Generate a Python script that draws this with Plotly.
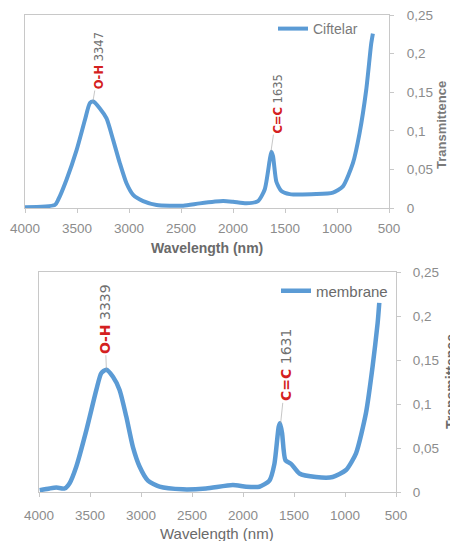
import plotly.graph_objects as go

# ---- data: Ciftelar spectrum ----
wl_top = [4000, 3712, 3680, 3600, 3504, 3424, 3376, 3344, 3280, 3216, 3152, 3088, 3024, 2960,
          2864, 2735, 2479, 2319, 2095, 1999, 1871, 1759, 1695, 1647, 1631, 1615, 1583, 1535,
          1455, 1199, 1039, 943, 847, 783, 719, 671, 655]
tr_top = [0.001, 0.004, 0.011, 0.037, 0.075, 0.114, 0.136, 0.138, 0.129, 0.116, 0.088, 0.058, 0.032, 0.017,
          0.009, 0.004, 0.003, 0.006, 0.009, 0.008, 0.006, 0.009, 0.024, 0.062, 0.073, 0.067, 0.034, 0.022,
          0.018, 0.018, 0.020, 0.028, 0.058, 0.097, 0.153, 0.213, 0.226]

# ---- data: membrane spectrum ----
wl_bot = [3993, 3896, 3830, 3749, 3700, 3634, 3536, 3438, 3390, 3340, 3275, 3210, 3145, 3079,
          3014, 2932, 2818, 2590, 2362, 2100, 1969, 1839, 1741, 1692, 1650, 1637, 1617, 1584,
          1529, 1447, 1284, 1121, 990, 892, 794, 729, 680, 664]
tr_bot = [0.002, 0.004, 0.005, 0.004, 0.010, 0.029, 0.070, 0.116, 0.135, 0.139, 0.131, 0.116, 0.086, 0.051,
          0.029, 0.013, 0.006, 0.003, 0.004, 0.008, 0.006, 0.006, 0.013, 0.032, 0.074, 0.078, 0.067, 0.036,
          0.032, 0.021, 0.017, 0.017, 0.025, 0.044, 0.090, 0.143, 0.192, 0.215]

x_ticks = [4000, 3500, 3000, 2500, 2000, 1500, 1000, 500]
y_ticks = [0, 0.05, 0.1, 0.15, 0.2, 0.25]

peaks_top = [("O-H", 3347, 0.138), ("C=C", 1635, 0.073)]
peaks_bot = [("O-H", 3339, 0.139), ("C=C", 1631, 0.078)]

BLUE = "#5b9bd5"
GRAY = "#8c8c8c"
FONT = "Liberation Sans, Arial"
W, H = 458, 541
OFF = 8  # page body margin
FW, FH = W - OFF, H - OFF

fig = go.Figure()
fig.add_trace(go.Scatter(x=wl_top, y=tr_top, mode="lines", name="Ciftelar",
                         line=dict(color=BLUE, width=4, shape="spline", smoothing=0.6),
                         xaxis="x", yaxis="y", legend="legend"))
fig.add_trace(go.Scatter(x=wl_bot, y=tr_bot, mode="lines", name="membrane",
                         line=dict(color=BLUE, width=4.5, shape="spline", smoothing=0.6),
                         xaxis="x2", yaxis="y2", legend="legend2"))

def px_x(p):
    return (p - OFF) / FW

def px_y(p):
    return 1 - (p - OFF) / FH

def axis_common(size, standoff):
    return dict(showgrid=False, zeroline=False, showline=True, mirror=True, automargin=False,
                linecolor="#c8c8c8", linewidth=1, ticklabeloverflow="allow",
                tickfont=dict(family=FONT, size=size, color=GRAY),
                ticks="outside", tickcolor="#c8c8c8", ticklen=4, ticklabelstandoff=standoff)

fig.update_layout(
    width=FW, height=FH,
    margin=dict(l=0, r=0, t=0, b=0),
    paper_bgcolor="white", plot_bgcolor="white",
    separators=", ",
    showlegend=True,
    xaxis=dict(domain=[px_x(25), px_x(389)], range=[4000, 500], tickvals=x_ticks,
               anchor="y", **axis_common(13.5, 4)),
    yaxis=dict(domain=[px_y(208), px_y(15)], range=[0, 0.25], tickvals=y_ticks,
               side="right", anchor="x", **axis_common(13.5, 10)),
    xaxis2=dict(domain=[px_x(39), px_x(396)], range=[4000, 500], tickvals=x_ticks,
                anchor="y2", **axis_common(13.5, 7)),
    yaxis2=dict(domain=[px_y(492), px_y(272)], range=[0, 0.25], tickvals=y_ticks,
                side="right", anchor="x2", **axis_common(13.5, 9)),
    legend=dict(x=px_x(273), y=px_y(29), xanchor="left", yanchor="middle",
                bgcolor="rgba(0,0,0,0)",
                font=dict(family=FONT, size=14, color="#7a7a7a")),
    legend2=dict(x=px_x(276), y=px_y(291), xanchor="left", yanchor="middle",
                 bgcolor="rgba(0,0,0,0)",
                 font=dict(family=FONT, size=15, color="#6a6a6a")),
)

anns = []
# axis titles
title_common = dict(xref="paper", yref="paper", showarrow=False, xanchor="center", yanchor="middle")
anns.append(dict(text="<b>Wavelength (nm)</b>", x=px_x(207), y=px_y(248),
                 font=dict(family=FONT, size=14, color="#6a6a6a"), **title_common))
anns.append(dict(text="Wavelength (nm)", x=px_x(217), y=px_y(533),
                 font=dict(family=FONT, size=15, color="#6a6a6a"), **title_common))
anns.append(dict(text="<b>Transmittence</b>", x=px_x(442), y=px_y(125), textangle=-90,
                 font=dict(family=FONT, size=13, color="#7a7a7a"), **title_common))
anns.append(dict(text="<b>Transmittence</b>", x=px_x(451), y=px_y(382), textangle=-90,
                 font=dict(family=FONT, size=14, color="#6a6a6a"), **title_common))

def peak_label(lbl, wl):
    return (f"<span style='color:#d42020'><b>{lbl}</b></span> "
            f"<span style='color:#707070'>{wl}</span>")

# top peaks: (ax, ay) offsets of label centre from the peak, in pixels
for (lbl, wl, t), (dx, ay) in zip(peaks_top, [(7, -41), (7, -48)]):
    anns.append(dict(text=peak_label(lbl, wl), x=wl, y=t, xref="x", yref="y",
                     textangle=-90, showarrow=True, arrowhead=0, arrowwidth=0.6,
                     arrowcolor="#a0a0a0", ax=dx, ay=ay,
                     font=dict(family="DejaVu Sans", size=11.5)))
for (lbl, wl, t), (dx, ay) in zip(peaks_bot, [(-2, -51), (6, -58)]):
    anns.append(dict(text=peak_label(lbl, wl), x=wl, y=t, xref="x2", yref="y2",
                     textangle=-90, showarrow=True, arrowhead=0, arrowwidth=0.6,
                     arrowcolor="#a0a0a0", ax=dx, ay=ay,
                     font=dict(family="DejaVu Sans", size=14)))

fig.update_layout(annotations=anns)
fig.write_html("out.html")
